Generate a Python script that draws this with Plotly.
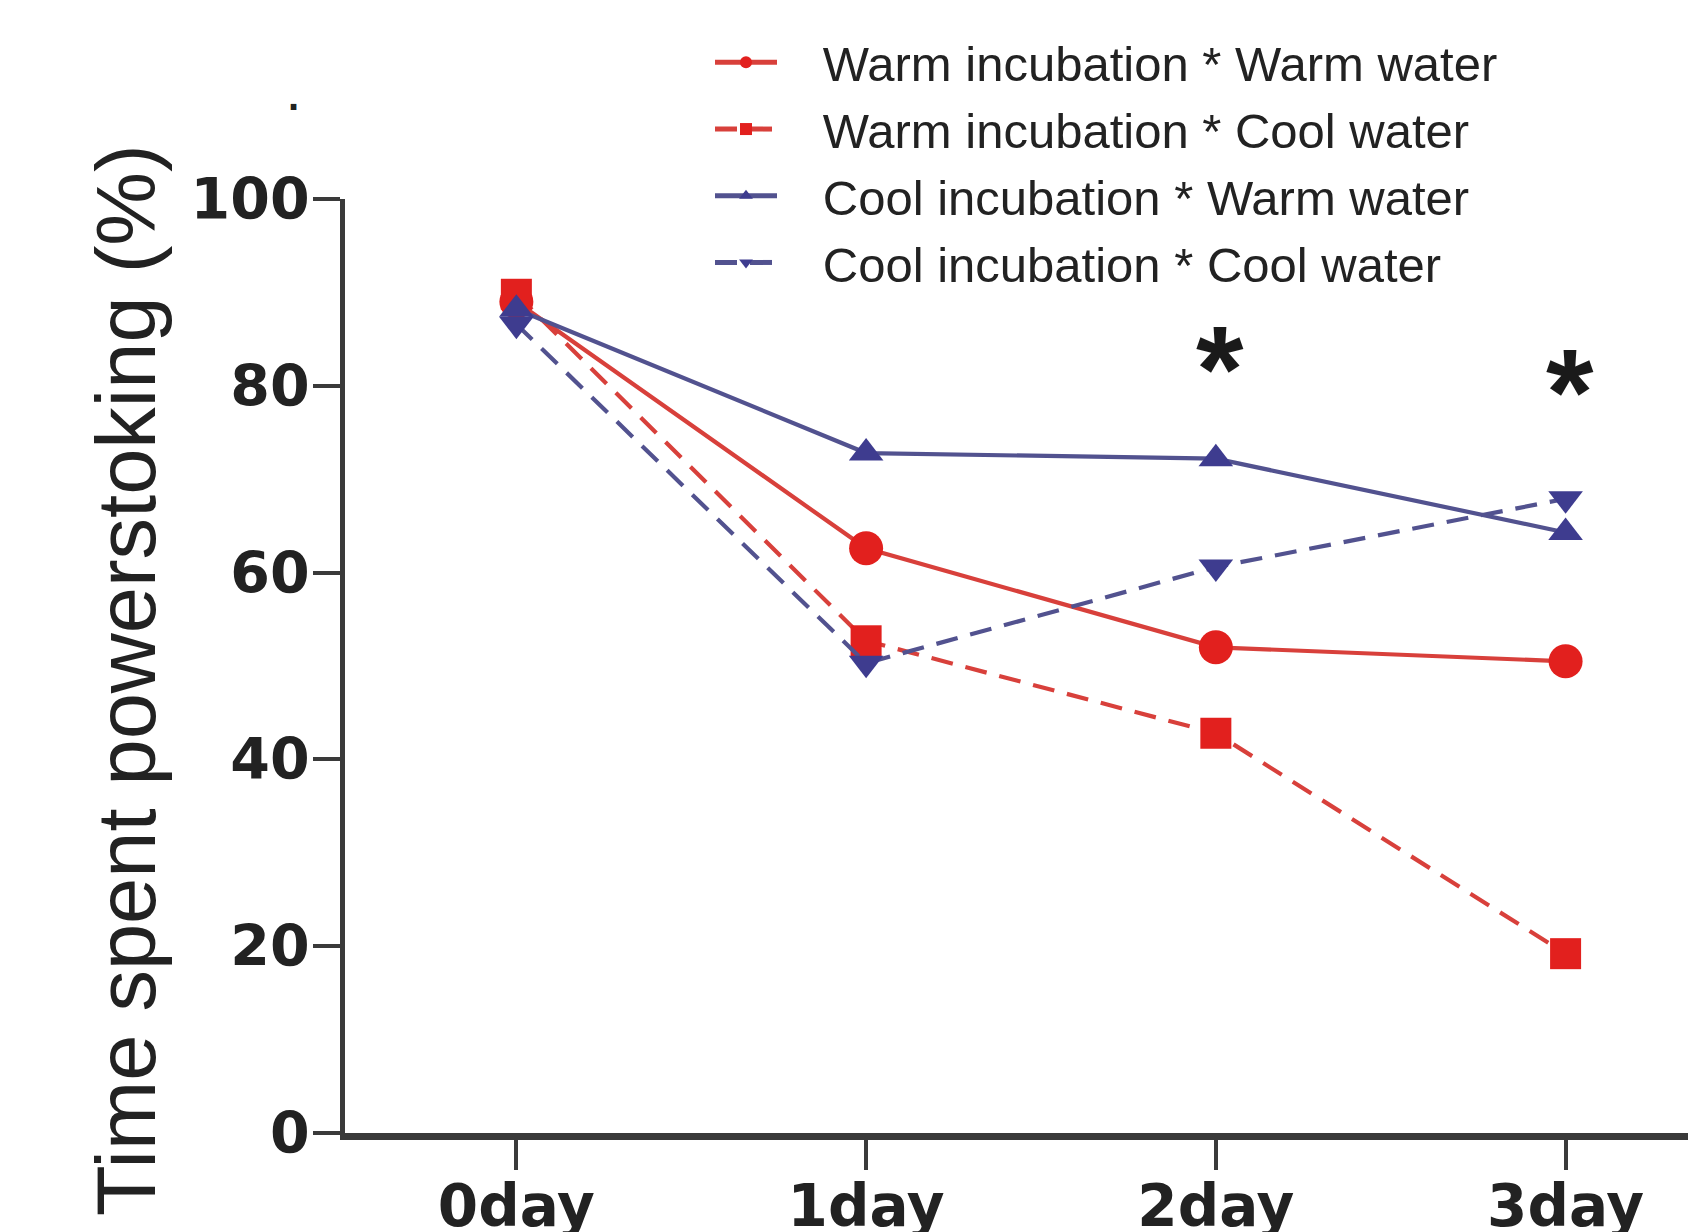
import plotly.graph_objects as go

days = ["0day", "1day", "2day", "3day"]
warm_inc_warm_water = [89.0, 62.6, 52.0, 50.5]
warm_inc_cool_water = [89.8, 52.7, 42.8, 19.2]
cool_inc_warm_water = [88.2, 72.8, 72.2, 64.3]
cool_inc_cool_water = [86.6, 50.3, 60.6, 67.9]
series_names = [
    "Warm incubation * Warm water",
    "Warm incubation * Cool water",
    "Cool incubation * Warm water",
    "Cool incubation * Cool water",
]
y_ticks = [0, 20, 40, 60, 80, 100]
sig_days = ["2day", "3day"]
sig_heights = [83.5, 81.0]

RED_M = "#E2201E"
RED_L = "#D8403B"
BLUE_M = "#3E3C8F"
BLUE_L = "#52528F"

W, H = 1688, 1232
L, R, T, B = 345, 0, 199, 99
pw, ph = W - L - R, H - T - B

fig = go.Figure()
styles = [
    (warm_inc_warm_water, RED_L, RED_M, "solid", "circle", 34),
    (warm_inc_cool_water, RED_L, RED_M, "22px,13px", "square", 31),
    (cool_inc_warm_water, BLUE_L, BLUE_M, "solid", "triangle-up", 30),
    (cool_inc_cool_water, BLUE_L, BLUE_M, "22px,13px", "triangle-down", 30),
]
NB = "\u00a0" * 3
for name, (vals, lc, mc, dash, sym, sz) in zip(series_names, styles):
    fig.add_trace(go.Scatter(
        x=days, y=vals, name=NB + name, mode="lines+markers",
        line=dict(color=lc, width=4.2, dash=dash),
        marker=dict(color=mc, symbol=sym, size=sz, line=dict(width=0)),
    ))

for d, h in zip(sig_days, sig_heights):
    fig.add_annotation(x=d, y=h, xref="x", yref="y", text="*", showarrow=False,
                       font=dict(family="Liberation Sans", size=122, color="#1a1a1a", weight="bold"),
                       yshift=-16, xshift=4)

# y-axis title as annotation
fig.add_annotation(x=(126 - L) / pw, y=(H - B - 680) / ph, xref="paper", yref="paper",
                   xanchor="center", yanchor="middle",
                   text="Time spent powerstoking (%)", textangle=-90, showarrow=False,
                   font=dict(family="Liberation Sans", size=83, color="#222222"))
# stray dot near top-left
fig.add_annotation(x=(293 - L) / pw, y=(H - B - 96) / ph, xref="paper", yref="paper",
                   xanchor="center", yanchor="middle",
                   text=".", showarrow=False,
                   font=dict(family="Liberation Sans", size=40, color="#222222", weight="bold"))

XTICKFONT = dict(family="DejaVu Sans", size=58, color="#222222", weight="bold")
YTICKFONT = dict(family="DejaVu Sans", size=57, color="#222222", weight="bold")

fig.update_layout(
    width=W, height=H,
    margin=dict(l=L, r=R, t=T, b=B, autoexpand=False),
    paper_bgcolor="white", plot_bgcolor="white",
    showlegend=True,
    legend=dict(
        x=(710 - L) / pw, y=(H - B - 24) / ph, xanchor="left", yanchor="top",
        font=dict(family="Liberation Sans", size=49, color="#222222"),
        bgcolor="rgba(0,0,0,0)", itemwidth=62, itemsizing="constant",
        tracegroupgap=0,
    ),
    xaxis=dict(
        type="category", range=[-0.49, 3.35],
        showline=True, linecolor="#3a3a3a", linewidth=7,
        ticks="outside", ticklen=30, tickwidth=3.5, tickcolor="#3a3a3a",
        showgrid=False, zeroline=False, ticklabelstandoff=-14,
        tickfont=XTICKFONT,
    ),
    yaxis=dict(
        range=[0, 100], tickvals=y_ticks,
        showline=True, linecolor="#3a3a3a", linewidth=5,
        ticks="outside", ticklen=27, tickwidth=4, tickcolor="#3a3a3a",
        showgrid=False, zeroline=False, ticklabelstandoff=-8,
        tickfont=YTICKFONT,
    ),
)

fig.write_html("out.html")
